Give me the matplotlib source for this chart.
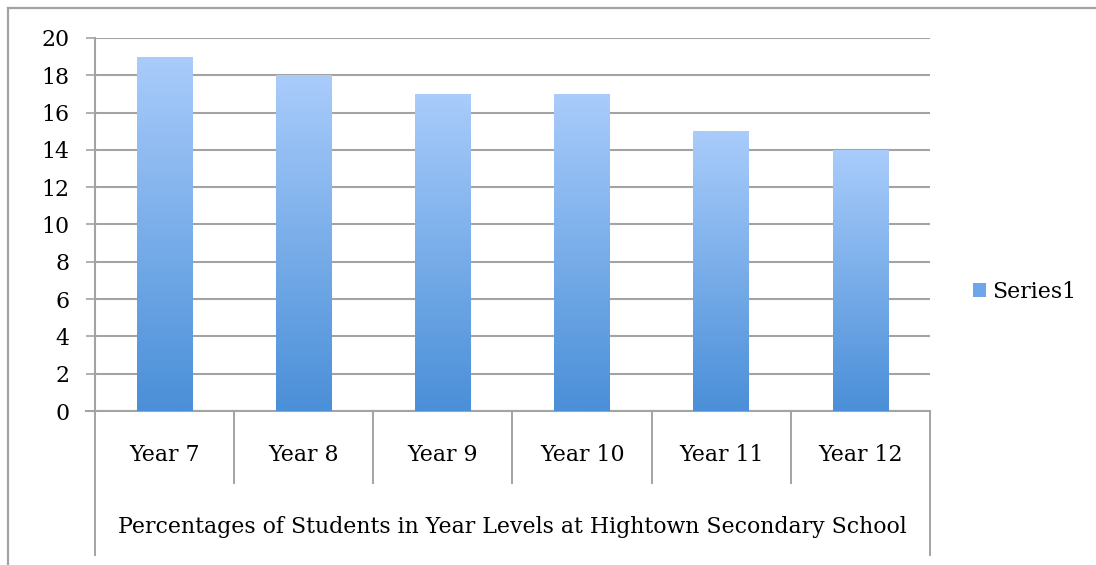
import matplotlib
matplotlib.use("Agg")
import matplotlib.pyplot as plt
import numpy as np
from matplotlib.colors import LinearSegmentedColormap
from matplotlib.lines import Line2D
from matplotlib.patches import Patch
from matplotlib.transforms import blended_transform_factory

categories = ["Year 7", "Year 8", "Year 9", "Year 10", "Year 11", "Year 12"]
values = [19, 18, 17, 17, 15, 14]
y_ticks = [0, 2, 4, 6, 8, 10, 12, 14, 16, 18, 20]
axis_title = "Percentages of Students in Year Levels at Hightown Secondary School"
series_name = "Series1"

W, H = 1096, 565
GRID = "#a3a3a3"
FS = 15.8
plt.rcParams["font.family"] = ["DejaVu Serif"]

fig = plt.figure(figsize=(W / 100, H / 100), dpi=100)


def fx(px):
    return px / W


def fy(py):
    return 1 - py / H


# chart border (top + left visible)
fig.add_artist(Line2D([fx(8), 1], [fy(8), fy(8)], color=GRID, lw=1.6))
fig.add_artist(Line2D([fx(8), fx(8)], [fy(8), 0], color=GRID, lw=1.6))

left, right, top, bottom = 95, 930, 38, 411
ax = fig.add_axes([fx(left), fy(bottom), fx(right - left), (bottom - top) / H])

x = np.arange(len(categories))
cmap = LinearSegmentedColormap.from_list("bar", ["#4a8fd8", "#a9ccfb"])
bars = ax.bar(x, values, width=0.4, color="none", zorder=3)
grad = np.linspace(0, 1, 256).reshape(-1, 1)
for b in bars:
    x0, w, h = b.get_x(), b.get_width(), b.get_height()
    im = ax.imshow(grad, cmap=cmap, origin="lower", aspect="auto",
                   extent=[x0, x0 + w, 0, h], zorder=3)
    im.set_clip_path(b)

ax.set_xlim(-0.5, len(categories) - 0.5)
ax.set_ylim(0, 20)
ax.set_yticks(y_ticks)
ax.set_xticks([])
ax.yaxis.grid(True, color=GRID, lw=1.5, zorder=0)
ax.tick_params(axis="y", length=6.5, width=1.2, color=GRID, pad=12, labelsize=FS)
for s in ["top", "right"]:
    ax.spines[s].set_visible(False)
for s in ["left", "bottom"]:
    ax.spines[s].set_color(GRID)
    ax.spines[s].set_linewidth(1.5)
ax.spines["bottom"].set_bounds(-0.5 - 9 / 139.2, len(categories) - 0.5)

# category area below the plot
tr = blended_transform_factory(ax.transData, fig.transFigure)
for i in range(len(categories) + 1):
    bx = i - 0.5
    end = 555 if i in (0, len(categories)) else 483
    ax.add_line(Line2D([bx, bx], [fy(bottom), fy(end)], transform=tr,
                       color=GRID, lw=1.4, clip_on=False))
for i, c in enumerate(categories):
    ax.text(i, fy(455), c, transform=tr, ha="center", va="center", fontsize=FS)
ax.text((len(categories) - 1) / 2, fy(527), axis_title, transform=tr,
        ha="center", va="center", fontsize=FS)

fig.legend(handles=[Patch(facecolor="#6ea6ea", edgecolor="none", label=series_name)],
           loc="center left", bbox_to_anchor=(fx(953), fy(292)), frameon=False,
           fontsize=FS, handlelength=0.6, handleheight=0.6, handletextpad=0.3)

fig.savefig("out.png", dpi=100)
